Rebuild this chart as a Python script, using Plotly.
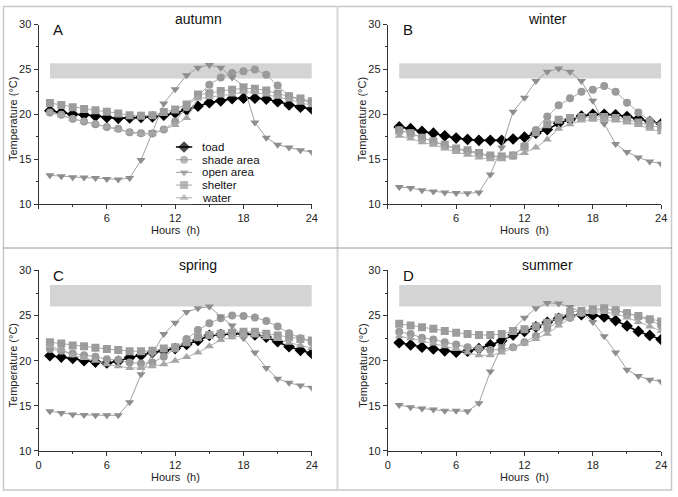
import plotly.graph_objects as go

hours = list(range(1, 25))
seasons = ["autumn", "winter", "spring", "summer"]
letters = ["A", "B", "C", "D"]
series_names = ["toad", "shade area", "open area", "shelter", "water"]

autumn_toad = [20.4, 20.2, 20.0, 19.95, 19.8, 19.65, 19.55, 19.6, 19.65, 19.7, 19.9, 20.15, 20.5, 20.9, 21.3, 21.5, 21.75, 21.8, 21.8, 21.7, 21.4, 21.05, 20.8, 20.6]
autumn_shade = [20.2, 19.95, 19.5, 19.2, 18.9, 18.6, 18.4, 18.0, 17.9, 17.85, 18.3, 19.2, 20.8, 22.1, 23.3, 24.1, 24.6, 24.8, 25.0, 24.4, 23.2, 22.0, 21.6, 21.3]
autumn_open = [13.2, 13.1, 13.0, 12.95, 12.9, 12.8, 12.75, 12.9, 14.9, 18.0, 21.2, 22.8, 24.35, 25.2, 25.5, 25.2, 24.1, 23.2, 19.1, 17.4, 16.6, 16.3, 16.0, 15.8]
autumn_shelter = [21.25, 21.05, 20.8, 20.6, 20.45, 20.3, 20.1, 19.9, 19.85, 19.9, 20.25, 20.55, 21.1, 22.2, 22.35, 22.6, 22.75, 22.9, 22.85, 22.65, 22.3, 22.0, 21.75, 21.45]
autumn_water = [20.2, 19.9, 19.5, 19.2, 18.95, 18.6, 18.3, 18.0, 17.8, 17.85, 18.3, 18.8, 19.6, 21.75, 21.9, 22.1, 22.2, 22.5, 22.45, 22.2, 21.95, 21.65, 21.3, 21.0]

winter_toad = [18.6, 18.4, 18.1, 17.9, 17.6, 17.35, 17.2, 17.1, 17.1, 17.1, 17.25, 17.45, 17.9, 18.3, 19.0, 19.4, 19.8, 20.0, 20.0, 19.95, 19.75, 19.5, 19.2, 18.95]
winter_shade = [18.25, 17.9, 17.4, 16.95, 16.5, 16.15, 15.9, 15.6, 15.3, 15.25, 15.4, 16.45, 18.25, 19.75, 21.0, 21.8, 22.5, 22.75, 23.15, 22.5, 21.3, 20.2, 19.3, 18.8]
winter_open = [11.9, 11.8, 11.55, 11.4, 11.3, 11.25, 11.2, 11.3, 13.3, 16.3, 20.3, 21.85, 23.7, 24.75, 25.1, 24.75, 23.7, 21.5, 18.95, 16.7, 15.8, 15.2, 14.75, 14.5]
winter_shelter = [18.2, 17.9, 17.4, 17.0, 16.6, 16.2, 16.0, 15.7, 15.4, 15.3, 15.4, 16.4, 18.0, 18.9, 19.4, 19.6, 19.7, 19.7, 19.7, 19.6, 19.4, 19.1, 18.8, 18.5]
winter_water = [17.6, 17.3, 16.9, 16.6, 16.2, 15.8, 15.5, 15.2, 15.0, 15.0, 15.4, 15.7, 16.3, 17.2, 18.4, 18.9, 19.3, 19.4, 19.4, 19.3, 19.1, 18.8, 18.4, 18.0]

spring_toad = [20.55, 20.4, 20.25, 20.0, 19.85, 19.75, 19.95, 20.35, 20.6, 20.9, 21.1, 21.35, 21.8, 22.25, 22.8, 22.9, 23.0, 23.0, 22.85, 22.6, 22.1, 21.55, 21.15, 20.8]
spring_shade = [21.3, 21.1, 20.8, 20.6, 20.45, 20.15, 20.1, 19.8, 19.7, 19.8, 20.45, 21.35, 22.4, 23.4, 24.15, 24.7, 25.0, 24.95, 24.8, 24.4, 23.8, 23.05, 22.5, 22.05]
spring_open = [14.4, 14.2, 14.05, 14.0, 13.95, 13.95, 13.95, 15.4, 18.5, 20.75, 22.95, 24.2, 25.4, 25.8, 26.0, 24.9, 23.9, 22.5, 20.9, 19.2, 18.0, 17.55, 17.25, 17.0]
spring_shelter = [22.05, 21.9, 21.7, 21.6, 21.45, 21.3, 21.2, 21.05, 21.05, 21.1, 21.35, 21.5, 22.05, 22.6, 22.85, 23.0, 23.1, 23.2, 23.2, 23.0, 22.8, 22.6, 22.4, 22.25]
spring_water = [21.6, 21.2, 20.6, 20.3, 20.0, 19.6, 19.4, 19.2, 19.2, 19.4, 19.6, 20.0, 20.4, 20.9, 21.6, 22.3, 22.6, 22.8, 22.8, 22.6, 22.4, 22.0, 21.7, 21.4]

summer_toad = [22.0, 21.75, 21.5, 21.3, 21.1, 20.95, 21.05, 21.35, 21.75, 22.2, 22.85, 23.25, 23.75, 24.25, 24.7, 24.95, 25.1, 25.05, 24.85, 24.45, 23.85, 23.25, 22.8, 22.35]
summer_shade = [23.2, 22.95, 22.55, 22.35, 22.05, 21.8, 21.5, 21.35, 21.2, 21.25, 21.5, 22.05, 22.75, 23.55, 24.35, 24.75, 25.3, 25.55, 25.7, 25.6, 25.3, 24.9, 24.5, 23.9]
summer_open = [15.1, 14.85, 14.7, 14.6, 14.45, 14.45, 14.4, 15.3, 18.8, 21.6, 23.5, 24.75, 25.8, 26.4, 26.35, 25.95, 25.4, 24.3, 22.7, 20.9, 19.0, 18.3, 17.9, 17.7]
summer_shelter = [24.1, 23.9, 23.7, 23.55, 23.3, 23.1, 22.95, 22.85, 22.85, 22.95, 23.3, 23.5, 23.8, 24.2, 24.8, 25.4, 25.5, 25.7, 25.8, 25.6, 25.25, 24.95, 24.6, 24.35]
summer_water = [22.7, 22.5, 22.2, 21.9, 21.6, 21.3, 20.9, 20.6, 20.6, 20.9, 21.4, 21.9, 22.4, 23.0, 23.9, 24.7, 25.2, 25.4, 25.4, 25.2, 24.8, 24.3, 23.8, 23.3]

# preferred temperature band per season (low, high) and its hour span
band_low = [24.0, 24.0, 26.0, 26.0]
band_high = [25.7, 25.7, 28.4, 28.4]
band_hours = [1, 24]

x_ticks = [0, 6, 12, 18, 24]
y_ticks = [10, 15, 20, 25, 30]

season_data = {
    "autumn": [autumn_toad, autumn_shade, autumn_open, autumn_shelter, autumn_water],
    "winter": [winter_toad, winter_shade, winter_open, winter_shelter, winter_water],
    "spring": [spring_toad, spring_shade, spring_open, spring_shelter, spring_water],
    "summer": [summer_toad, summer_shade, summer_open, summer_shelter, summer_water],
}

W, H = 678, 497
def px(x):
    return x / W
def py(y):
    return 1 - y / H

styles = [
    dict(symbol="diamond", size=9, color="#000000", line_color="#000000", line_width=1.6),
    dict(symbol="circle", size=8, color="#9a9a9a", line_color="#a8a8a8", line_width=1),
    dict(symbol="triangle-down", size=8, color="#8e8e8e", line_color="#a0a0a0", line_width=1),
    dict(symbol="square", size=8, color="#9c9c9c", line_color="#a8a8a8", line_width=1),
    dict(symbol="triangle-up", size=8, color="#a6a6a6", line_color="#b0b0b0", line_width=1),
]

# panel geometry in pixels: (x_left, x_right, y_top, y_bottom)
panels = [
    (36, 313, 19, 203),
    (390, 667, 19, 203),
    (36, 313, 271, 456),
    (390, 667, 271, 456),
]

fig = go.Figure()
layout = dict(
    margin=dict(l=0, r=0, t=0, b=0),
    paper_bgcolor="white", plot_bgcolor="white", showlegend=False,
    font=dict(family="Liberation Sans, Arial, sans-serif", color="#222"),
)
annotations = []
shapes = []

for i, season in enumerate(seasons):
    xl, xr, yt, yb = panels[i]
    k = "" if i == 0 else str(i + 1)
    xa, ya = "x" + k, "y" + k
    data = season_data[season]
    for j, name in enumerate(series_names):
        st = styles[j]
        fig.add_trace(go.Scatter(
            x=hours, y=data[j], mode="lines+markers", name=name,
            xaxis=xa, yaxis=ya, showlegend=False,
            line=dict(color=st["line_color"], width=st["line_width"]),
            marker=dict(symbol=st["symbol"], size=st["size"], color=st["color"], line=dict(width=0)),
        ))
    top_row = i < 2
    layout["xaxis" + k] = dict(
        domain=[px(xl), px(xr)], range=[0, 24], anchor=ya,
        tickvals=x_ticks,
        ticktext=[("" if (top_row and v == 0) else str(v)) for v in x_ticks],
        ticks="outside", ticklen=4, tickwidth=1, tickcolor="#333",
        minor=dict(dtick=3, tick0=0, ticks="outside", ticklen=2, tickcolor="#333"),
        showline=True, linecolor="#333", linewidth=1, showgrid=False, zeroline=False,
        tickfont=dict(size=11, color="#222"),
    )
    layout["yaxis" + k] = dict(
        domain=[py(yb), py(yt)], range=[10, 30], anchor=xa,
        tickvals=y_ticks, ticks="outside", ticklen=4, tickwidth=1, tickcolor="#333",
        minor=dict(dtick=2.5, tick0=10, ticks="outside", ticklen=2, tickcolor="#333"),
        showline=True, linecolor="#333", linewidth=1, showgrid=False, zeroline=False,
        tickfont=dict(size=11, color="#222"),
    )
    shapes.append(dict(
        type="rect", xref=xa, yref=ya, x0=band_hours[0], x1=band_hours[1],
        y0=band_low[i], y1=band_high[i], fillcolor="#d4d4d4", line=dict(width=0), layer="below",
    ))
    # season title
    cx = 198 if i % 2 == 0 else 552
    ty = 13 if top_row else 265
    annotations.append(dict(text=season, x=px(cx), y=py(ty), xref="paper", yref="paper",
                            showarrow=False, font=dict(size=14, color="#111"),
                            xanchor="center", yanchor="middle"))
    # panel letter
    annotations.append(dict(text=letters[i], x=px(xl + 13), y=py(yt + 5), xref="paper", yref="paper",
                            showarrow=False, font=dict(size=15, color="#111"),
                            xanchor="left", yanchor="middle"))
    # y title
    annotations.append(dict(text="Temperature (°C)", x=px(xl - 26), y=py((yt + yb) / 2 + 5),
                            xref="paper", yref="paper", showarrow=False, textangle=-90,
                            font=dict(size=11, color="#222"), xanchor="center", yanchor="middle"))
    # x title
    annotations.append(dict(text="Hours  (h)", x=px((xl + xr) / 2 + 0), y=py(yb + 27),
                            xref="paper", yref="paper", showarrow=False,
                            font=dict(size=11, color="#222"), xanchor="center", yanchor="middle"))

# custom compact legend in panel A
leg_x0, leg_x1 = 175, 192
leg_top, leg_bottom = 138, 203
layout["xaxis5"] = dict(domain=[px(leg_x0), px(leg_x1)], range=[0, 1], visible=False, anchor="y5")
layout["yaxis5"] = dict(domain=[py(leg_bottom), py(leg_top)], type="category",
                        categoryarray=series_names, range=[4.5, -0.5], visible=False, anchor="x5")
sample_x = [0, 0.5, 1]
for j, name in enumerate(series_names):
    st = styles[j]
    fig.add_trace(go.Scatter(
        x=sample_x, y=[name] * 3, mode="lines+markers", xaxis="x5", yaxis="y5", showlegend=False,
        line=dict(color=st["line_color"], width=st["line_width"]),
        marker=dict(symbol=st["symbol"], size=[0, st["size"], 0], color=st["color"], line=dict(width=0)),
        hoverinfo="skip",
    ))
    annotations.append(dict(text=name, x=px(leg_x1 + 8), y=name, xref="paper", yref="y5",
                            showarrow=False, xanchor="left", yanchor="middle",
                            font=dict(size=11.5, color="#111")))

# panel frames
frame = "#c8c8c8"
shapes += [
    dict(type="rect", xref="paper", yref="paper", x0=px(0.5), x1=px(677.5), y0=py(496), y1=py(0.5),
         line=dict(color=frame, width=1.5), fillcolor="rgba(0,0,0,0)"),
    dict(type="line", xref="paper", yref="paper", x0=px(339), x1=px(339), y0=0, y1=1,
         line=dict(color="#d6d6d6", width=2)),
    dict(type="line", xref="paper", yref="paper", x0=0, x1=1, y0=py(248), y1=py(248),
         line=dict(color="#9a9a9a", width=1)),
]

layout["annotations"] = annotations
layout["shapes"] = shapes
fig.update_layout(**layout)

post = (
    "var de=document.documentElement,b=document.body;"
    "de.style.margin='0';de.style.padding='0';de.style.overflow='hidden';"
    "b.style.margin='0';b.style.padding='0';b.style.overflow='hidden';"
    "var gd=document.getElementById('{plot_id}');"
    "var w=window.innerWidth||678,h=window.innerHeight||497;"
    "gd.style.position='fixed';gd.style.left='0px';gd.style.top='0px';"
    "gd.style.width=w+'px';gd.style.height=h+'px';"
    "Plotly.relayout(gd,{width:w,height:h});"
)
fig.write_html(
    "out.html",
    default_width="662px",
    default_height="481px",
    config={"displayModeBar": False},
    post_script=post,
)
